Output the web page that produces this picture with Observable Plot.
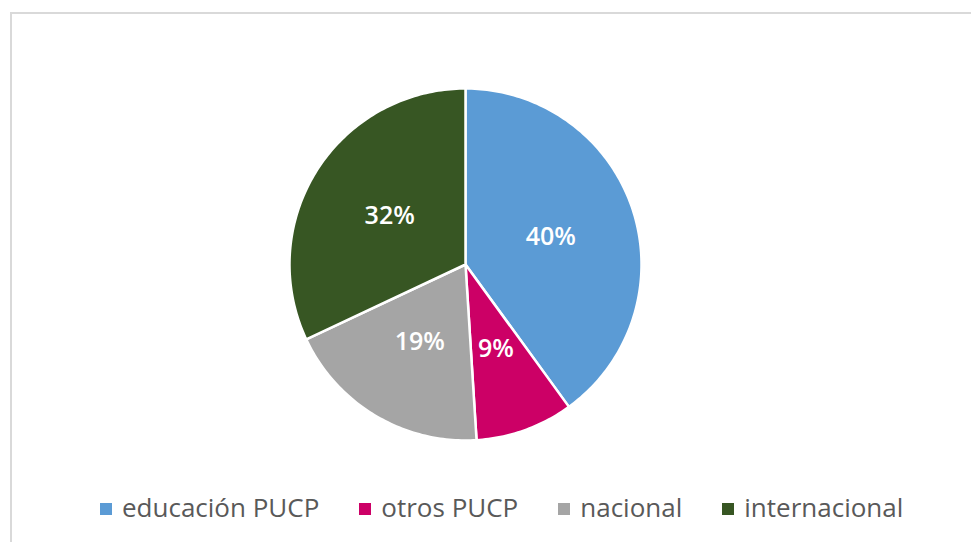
<!DOCTYPE html>
<html><head><meta charset="utf-8">
<script src="https://cdn.jsdelivr.net/npm/d3@7"></script>
<script src="https://cdn.jsdelivr.net/npm/@observablehq/plot@0.6"></script>
<style>
body{margin:0;background:#fff;width:971px;height:542px;overflow:hidden;position:relative;font-family:"Open Sans",sans-serif}
#frame{position:absolute;left:10px;top:12px;right:-5px;bottom:-5px;border-left:2px solid #d9d9d9;border-top:2px solid #d9d9d9}
#chart{position:absolute;left:0;top:0}
#legend{position:absolute;left:100px;top:489px;display:flex;align-items:center;font-size:26px;color:#595959;white-space:nowrap}
.item{display:flex;align-items:center;margin-right:40px}
.sw{width:12px;height:12px;margin-right:10px;margin-top:3px}
</style></head><body>
<div id="frame"></div><div id="chart"></div><div id="legend"></div>
<script>
const categories = ["educación PUCP", "otros PUCP", "nacional", "internacional"];
const values = [40, 9, 19, 32];
const colors = ["#5B9BD5", "#CC0066", "#A5A5A5", "#375623"];
const labels = ["40%", "9%", "19%", "32%"];

const arcs = d3.pie().sort(null).value(d => d)(values);
const poly = [];
arcs.forEach((a, i) => {
  const n = Math.max(2, Math.ceil((a.endAngle - a.startAngle) / (Math.PI / 180)));
  poly.push({cat: categories[i], x: 0, y: 0});
  for (let k = 0; k <= n; k++) {
    const t = a.startAngle + (a.endAngle - a.startAngle) * k / n;
    poly.push({cat: categories[i], x: Math.sin(t), y: Math.cos(t)});
  }
  poly.push({cat: categories[i], x: 0, y: 0});
});
const lab = arcs.map((a, i) => {
  const m = (a.startAngle + a.endAngle) / 2;
  return {label: labels[i], x: 0.51 * Math.sin(m), y: 0.51 * Math.cos(m)};
});

const cx = 465, cy = 264, R = 176;
const chart = Plot.plot({
  width: 971, height: 542, margin: 0,
  x: {domain: [-1, 1], range: [cx - R, cx + R], axis: null},
  y: {domain: [-1, 1], range: [cy + R, cy - R], axis: null},
  color: {domain: categories, range: colors},
  style: {background: "transparent", overflow: "visible"},
  marks: [
    Plot.line(poly, {x: "x", y: "y", z: "cat", fill: "cat", stroke: "white", strokeWidth: 2.5, strokeLinejoin: "round"}),
    Plot.text(lab, {x: "x", y: "y", text: "label", fill: "white", fontSize: 25, fontWeight: 600, fontFamily: "Open Sans"})
  ]
});
document.getElementById("chart").append(chart);

const legend = document.getElementById("legend");
categories.forEach((c, i) => {
  const it = document.createElement("div"); it.className = "item";
  const sw = document.createElement("div"); sw.className = "sw"; sw.style.background = colors[i];
  const tx = document.createElement("span"); tx.textContent = c;
  it.append(sw, tx); legend.append(it);
});
</script>
</body></html>
